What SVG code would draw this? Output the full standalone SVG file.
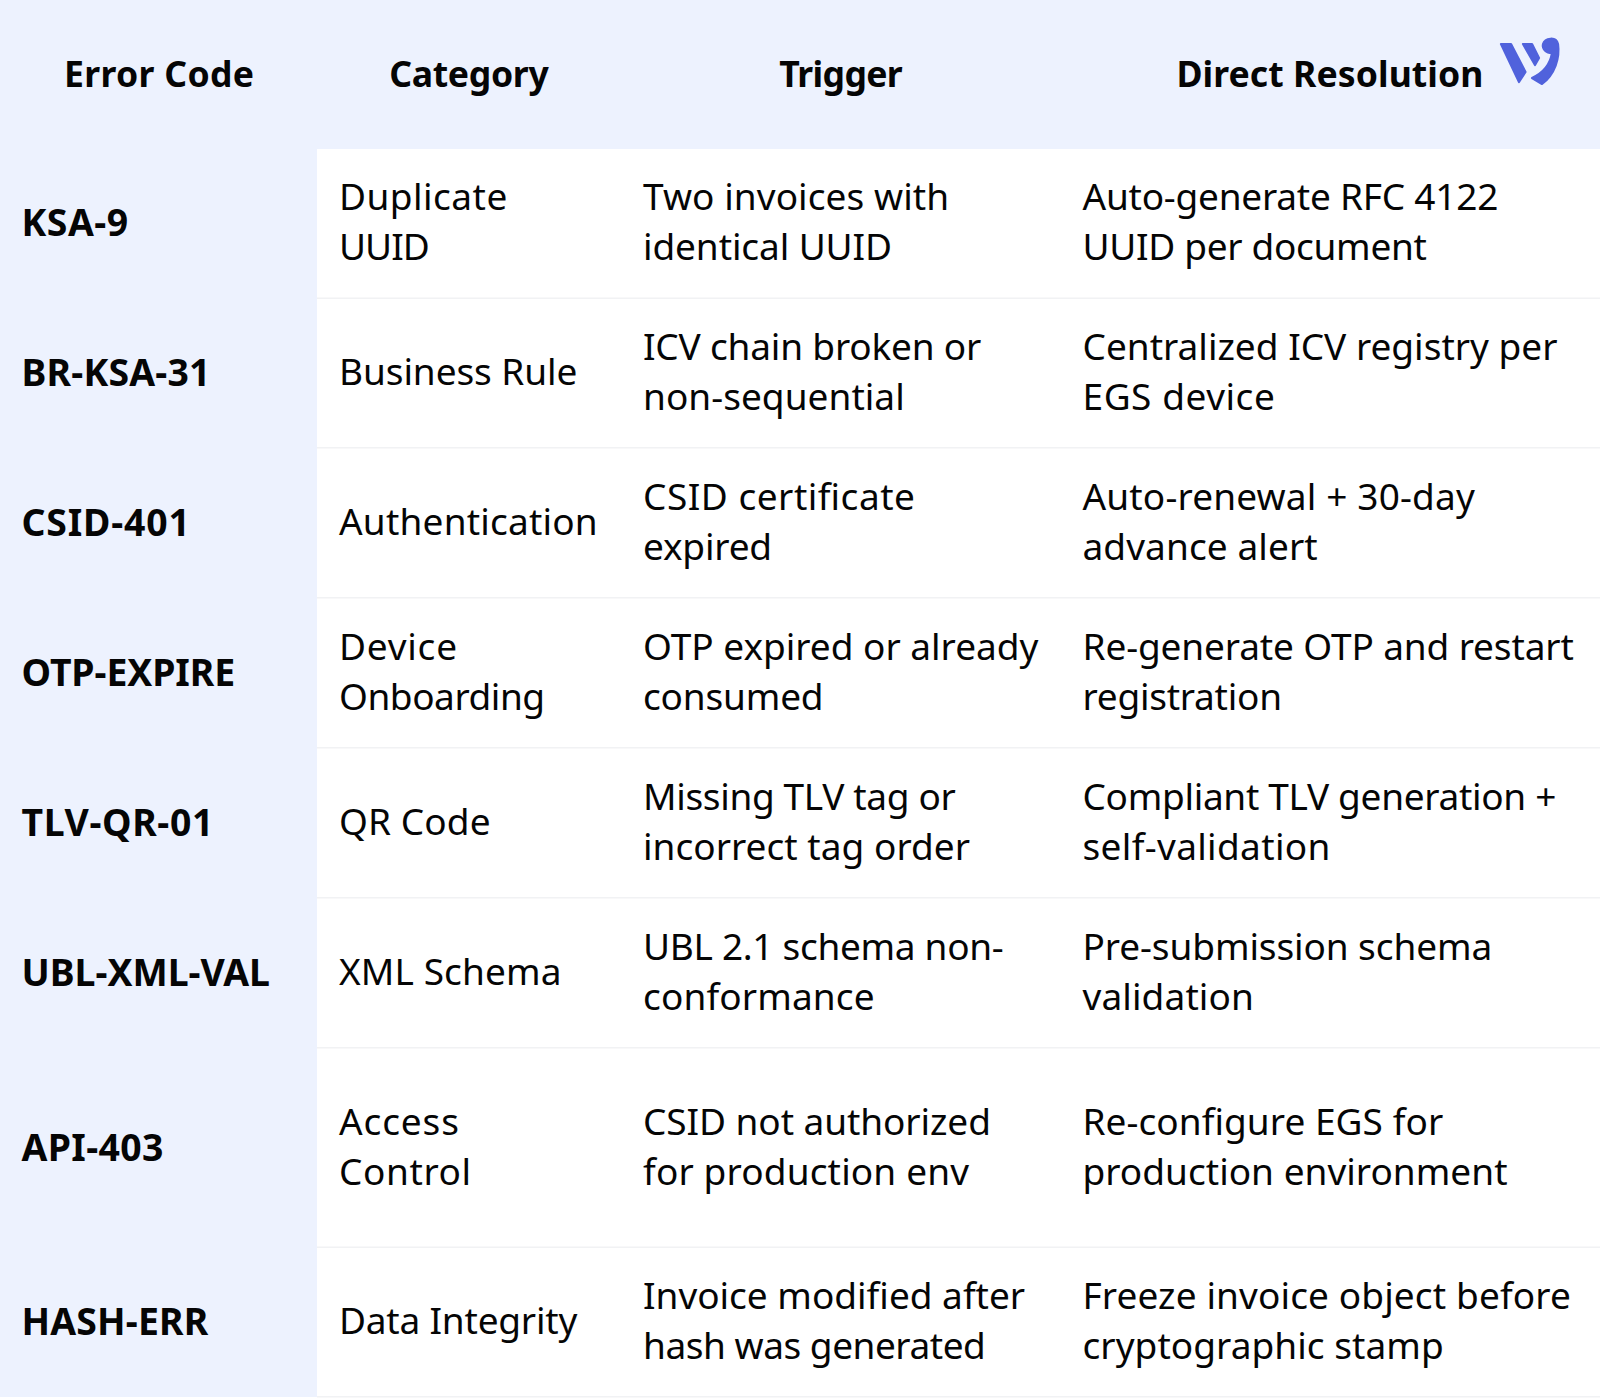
<svg xmlns="http://www.w3.org/2000/svg" width="1600" height="1400" viewBox="0 0 1600 1400">
<style>
text{font-family:"Noto Sans","Open Sans",sans-serif;fill:#050505;font-size:37px}
.h{font-weight:700;text-anchor:middle;font-size:35.6px}
.k{font-weight:700;font-size:37.4px}
.l{fill:#f1f2f4;height:1.5px;width:1283px;x:317px}
</style>
<rect width="1600" height="1400" fill="#fff"/>
<rect width="1600" height="149" fill="#edf2fe"/>
<rect y="149" width="317" height="1248" fill="#edf2fe"/>
<g id="lines">
<rect class="l" y="297.5"/><rect class="l" y="447"/><rect class="l" y="597"/><rect class="l" y="747"/><rect class="l" y="897"/><rect class="l" y="1047"/><rect class="l" y="1246.500"/><rect class="l" y="1396"/>
</g>
<g id="header">
<text class="h" x="159" y="87" textLength="190">Error Code</text>
<text class="h" x="469" y="87" textLength="159.500">Category</text>
<text class="h" x="841" y="87" textLength="123.500">Trigger</text>
<text class="h" x="1330" y="87" textLength="307">Direct Resolution</text>
</g>
<g id="logo" fill="#5062dc" stroke="#5062dc" stroke-width="2.200" stroke-linejoin="round"><path d="M1501 44L1511 44L1525.500 72L1519 82Z"/><path d="M1523 44L1532 44L1539 58L1535 65Z"/><path d="M1543 44C1545 38 1556 36 1558 44C1560 58 1555 74 1542 84L1532 78C1543 73 1550 66 1552 53C1546 53 1542 49 1543 44Z"/></g>
<g id="row1"><text class="k" x="21.500" y="235.500" textLength="106.600">KSA-9</text><text x="339" y="209.800" textLength="168.300">Duplicate</text><text x="339" y="259.800" textLength="90.800">UUID</text><text x="643" y="209.800" textLength="306.100">Two invoices with</text><text x="643" y="259.800" textLength="249">identical UUID</text><text x="1082.500" y="209.800" textLength="415.800">Auto-generate RFC 4122</text><text x="1082.500" y="259.800" textLength="344.400">UUID per document</text></g>
<g id="row2"><text class="k" x="21.500" y="385.500" textLength="189">BR-KSA-31</text><text x="339" y="384.800" textLength="238.300">Business Rule</text><text x="643" y="359.800" textLength="338.300">ICV chain broken or</text><text x="643" y="409.800" textLength="261.700">non-sequential</text><text x="1082.500" y="359.800" textLength="475">Centralized ICV registry per</text><text x="1082.500" y="409.800" textLength="192.300">EGS device</text></g>
<g id="row3"><text class="k" x="21.500" y="535.500" textLength="168.300">CSID-401</text><text x="339" y="534.800" textLength="258.700">Authentication</text><text x="643" y="509.800" textLength="271.900">CSID certificate</text><text x="643" y="559.800" textLength="129.100">expired</text><text x="1082.500" y="509.800" textLength="392.300">Auto-renewal + 30-day</text><text x="1082.500" y="559.800" textLength="235.200">advance alert</text></g>
<g id="row4"><text class="k" x="21.500" y="685.500" textLength="213.700">OTP-EXPIRE</text><text x="339" y="659.800" textLength="118">Device</text><text x="339" y="709.800" textLength="206.100">Onboarding</text><text x="643" y="659.800" textLength="395.400">OTP expired or already</text><text x="643" y="709.800" textLength="180.600">consumed</text><text x="1082.500" y="659.800" textLength="491.300">Re-generate OTP and restart</text><text x="1082.500" y="709.800" textLength="199.500">registration</text></g>
<g id="row5"><text class="k" x="21.500" y="835.500" textLength="191.800">TLV-QR-01</text><text x="339" y="834.800" textLength="151.500">QR Code</text><text x="643" y="809.800" textLength="312.700">Missing TLV tag or</text><text x="643" y="859.800" textLength="327">incorrect tag order</text><text x="1082.500" y="809.800" textLength="473.900">Compliant TLV generation +</text><text x="1082.500" y="859.800" textLength="247.900">self-validation</text></g>
<g id="row6"><text class="k" x="21.500" y="985.500" textLength="248.500">UBL-XML-VAL</text><text x="339" y="984.800" textLength="222.400">XML Schema</text><text x="643" y="959.800" textLength="360.700">UBL 2.1 schema non-</text><text x="643" y="1009.800" textLength="231.600">conformance</text><text x="1082.500" y="959.800" textLength="409.700">Pre-submission schema</text><text x="1082.500" y="1009.800" textLength="171.400">validation</text></g>
<g id="row7"><text class="k" x="21.500" y="1160.500" textLength="141.800">API-403</text><text x="339" y="1134.800" textLength="119.900">Access</text><text x="339" y="1184.800" textLength="132.100">Control</text><text x="643" y="1134.800" textLength="347.900">CSID not authorized</text><text x="643" y="1184.800" textLength="326">for production env</text><text x="1082.500" y="1134.800" textLength="360.700">Re-configure EGS for</text><text x="1082.500" y="1184.800" textLength="425">production environment</text></g>
<g id="row8"><text class="k" x="21.500" y="1335" textLength="186.700">HASH-ERR</text><text x="339" y="1334.300" textLength="238.300">Data Integrity</text><text x="643" y="1309" textLength="382.100">Invoice modified after</text><text x="643" y="1359" textLength="342.800">hash was generated</text><text x="1082.500" y="1309" textLength="488.300">Freeze invoice object before</text><text x="1082.500" y="1359" textLength="361.200">cryptographic stamp</text></g>
</svg>
